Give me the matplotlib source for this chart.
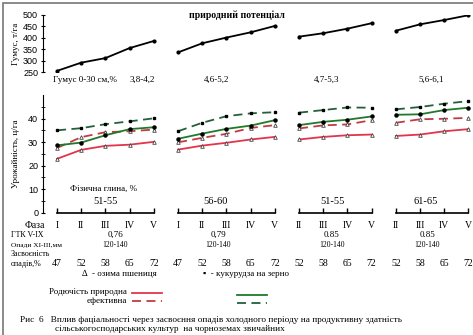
import matplotlib
matplotlib.use("Agg")
import matplotlib.pyplot as plt
import matplotlib.transforms as mtransforms
from matplotlib.patches import Rectangle
import numpy as np

plt.rcParams['font.family'] = ['Liberation Serif', 'DejaVu Serif']

# --- data, one list per group of phases ---
humus = [[255, 291, 311, 355, 386], [336, 376, 401, 424, 452],
         [405, 420, 440, 464], [431, 459, 478, 499]]
wheat_nat = [[22.9, 26.7, 28.4, 28.9, 30.1], [26.8, 28.5, 29.7, 31.1, 32.2],
             [31.1, 32.2, 32.9, 33.2], [32.6, 33.2, 34.6, 35.5]]
wheat_eff = [[27.5, 32.1, 34.2, 34.6, 35.3], [29.9, 31.8, 33.5, 36.0, 37.2],
             [35.8, 37.1, 37.5, 39.3], [38.2, 39.7, 39.9, 40.3]]
corn_nat = [[28.6, 29.8, 32.9, 35.5, 36.3], [31.4, 33.6, 35.6, 37.0, 39.3],
            [37.2, 38.6, 39.5, 40.9], [41.6, 41.8, 43.6, 44.6]]
corn_eff = [[35.0, 35.9, 37.6, 38.8, 40.1], [34.6, 38.2, 41.0, 42.2, 42.7],
            [42.5, 43.6, 44.7, 44.6], [43.9, 44.9, 46.3, 47.4]]
phases = [["I", "II", "III", "IV", "V"], ["I", "II", "III", "IV", "V"],
          ["II", "III", "IV", "V"], ["II", "III", "IV", "V"]]
precip_use = [[47, 52, 58, 65, 72], [47, 52, 58, 65, 72],
              [52, 58, 65, 72], [52, 58, 65, 72]]
humus_ranges = ["3,8-4,2", "4,6-5,2", "4,7-5,3", "5,6-6,1"]
clay_ranges = ["51-55", "56-60", "51-55", "61-65"]
gtk = ["0,76", "0,79", "0.85", "0.85"]
precip_cold = ["120-140", "120-140", "120-140", "120-140"]

W, H = 473, 335
RED, RED2, GREEN, GREEN2 = "#e3344c", "#c23a44", "#1f7a2a", "#25603a"
DASH = (0, (5, 3))


def fy(py):
    return 1 - py / H


fig = plt.figure(figsize=(W / 100, H / 100), dpi=100)
fig.add_artist(Rectangle((3 / W, -0.01), 1.0, 1.0 - 3 / H + 0.01,
                         transform=fig.transFigure, fill=False, ec="#777777", lw=1.2))

xlim = (-0.58, -0.58 + 428 / 24.2)
ax_top = fig.add_axes([43 / W, fy(72), 428 / W, 57 / H])
ax = fig.add_axes([43 / W, fy(212.7), 428 / W, 117.7 / H])

# x positions: all points evenly spaced, lines broken between groups
xs = []
start = 0
for g in humus:
    xs.append(np.arange(len(g)) + start)
    start += len(g)

for x, h in zip(xs, humus):
    ax_top.plot(x, h, "-o", color="black", lw=1.3, ms=2.0)
ax_top.set_xlim(*xlim)
ax_top.set_ylim(250, 500)
ax_top.set_yticks(range(250, 501, 50))
ax_top.set_xticks([])
for s in ["top", "right", "bottom"]:
    ax_top.spines[s].set_visible(False)
ax_top.tick_params(axis="y", direction="inout", length=3, labelsize=6.5, pad=2)
for lab in ax_top.get_yticklabels():
    lab.set_family("Liberation Sans")
ax_top.set_ylabel("Гумус, т/га", fontsize=6.5, labelpad=2)
ax_top.patch.set_alpha(0)

for i, x in enumerate(xs):
    ax.plot(x, wheat_nat[i], "-^", color=RED, lw=1.3, ms=2.6, mfc="white", mec="#444444", mew=0.6)
    ax.plot(x, wheat_eff[i], "^", ls=DASH, color=RED2, lw=1.3, ms=2.6, mfc="white", mec="#444444", mew=0.6)
    ax.plot(x, corn_nat[i], "-o", color=GREEN, lw=1.3, ms=2.2, mfc="black", mec="black")
    ax.plot(x, corn_eff[i], "s", ls=DASH, color=GREEN2, lw=1.3, ms=2.0, mfc="black", mec="black")
    ax.plot(x, np.zeros(len(x)), color="black", lw=1.2, marker=2, ms=3.5, mew=1.0, clip_on=False)

ax.set_xlim(*xlim)
ax.set_ylim(0, 50)
ax.set_yticks(range(0, 41, 10))
ax.set_yticks(range(5, 51, 10), minor=True)
ax.set_xticks([])
for s in ["top", "right", "bottom"]:
    ax.spines[s].set_visible(False)
ax.tick_params(axis="y", which="both", direction="inout", length=3, labelsize=6.5, pad=2)
for lab in ax.get_yticklabels():
    lab.set_family("Liberation Sans")
ax.set_ylabel("Урожайність, ц/га", fontsize=6.5, labelpad=6)
ax.patch.set_alpha(0)

fig.text(237 / W, fy(15), "природний потенціал", ha="center", va="center",
         fontsize=7, fontweight="bold")

tr = mtransforms.blended_transform_factory(ax.transData, fig.transFigure)
fs = 6.5

# humus labels under top chart
fig.text(53 / W, fy(80), "Гумус 0-30 см,%  ", ha="left", va="center", fontsize=fs)
hx = [3.5, 6.6, 11.15, 15.45]
for x, t in zip(hx, humus_ranges):
    fig.text(x, fy(80), t, transform=tr, ha="center", va="center", fontsize=fs)

fig.text(x=1.9, y=fy(189), s="Фізична глина, %", transform=tr, ha="center", va="center", fontsize=fs)
cx = [2.0, 6.53, 11.4, 15.25]
for x, t in zip(cx, clay_ranges):
    fig.text(x, fy(201), t, transform=tr, ha="center", va="center", fontsize=7.5)

# rows under lower chart
fig.text(25 / W, fy(225), "Фаза", ha="left", va="center", fontsize=7)
for x, ph in zip(xs, phases):
    for xi, p in zip(x, ph):
        fig.text(xi, fy(225), p, transform=tr, ha="center", va="center", fontsize=7)

fig.text(11 / W, fy(235), "ГТК V-IX", ha="left", va="center", fontsize=5.8)
fig.text(11 / W, fy(245), "Опади XI-III,мм", ha="left", va="center", fontsize=5.3)
gx = [2.4, 6.65, 11.36, 15.3]
for x, g, p in zip(gx, gtk, precip_cold):
    fig.text(x, fy(235), g, transform=tr, ha="center", va="center", fontsize=6.5)
    fig.text(x, fy(245), p, transform=tr, ha="center", va="center", fontsize=5.5)

fig.text(11 / W, fy(254), "Засвоєність", ha="left", va="center", fontsize=5.8)
fig.text(11 / W, fy(264), "опадів,%", ha="left", va="center", fontsize=5.8)
for x, pu in zip(xs, precip_use):
    for xi, p in zip(x, pu):
        fig.text(xi, fy(264), str(p), transform=tr, ha="center", va="center", fontsize=7)

fig.text(82 / W, fy(274), "∆  - озима пшениця", ha="left", va="center", fontsize=6.5)
fig.text(203 / W, fy(274), "▪  - кукурудза на зерно", ha="left", va="center", fontsize=6.5,
         family=["Liberation Serif", "DejaVu Sans"])

# legend
fig.text(127 / W, fy(292), "Родючість природна", ha="right", va="center", fontsize=6.5)
fig.text(127 / W, fy(301), "ефективна", ha="right", va="center", fontsize=6.5)
fig.add_artist(plt.Line2D([132 / W, 162 / W], [fy(293), fy(293)], color=RED, lw=1.3))
fig.add_artist(plt.Line2D([132 / W, 162 / W], [fy(301), fy(301)], color=RED2, lw=1.3, ls=DASH))
fig.add_artist(plt.Line2D([237 / W, 267 / W], [fy(295), fy(295)], color=GREEN, lw=1.3))
fig.add_artist(plt.Line2D([237 / W, 267 / W], [fy(303), fy(303)], color=GREEN2, lw=1.3, ls=DASH))

# caption
fig.text(20 / W, fy(320), "Рис  6   Вплив фаціальності через засвоєння опадів холодного періоду на продуктивну здатність",
         ha="left", va="center", fontsize=6.7)
fig.text(55 / W, fy(329), "сільськогосподарських культур  на чорноземах звичайних",
         ha="left", va="center", fontsize=6.7)

fig.savefig("out.png", dpi=100)
